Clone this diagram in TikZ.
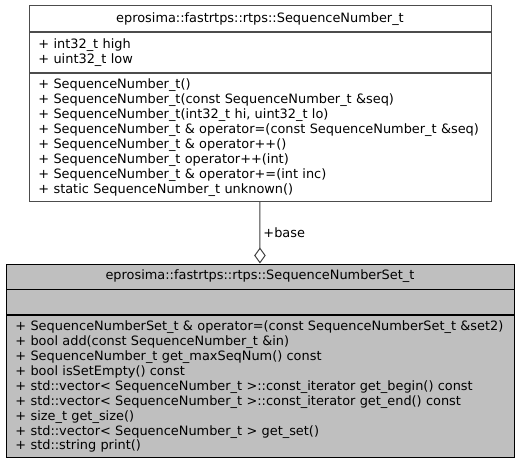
\documentclass[tikz,border=0pt]{standalone}
\usepackage{fontspec}
\setmainfont{DejaVu Sans}
\usepackage{xcolor}
\usepackage{tikz}
\usetikzlibrary{arrows.meta}
\definecolor{classborder}{gray}{0.3}
\definecolor{focusfill}{gray}{0.75}
\definecolor{edgegray}{gray}{0.25}
\tikzset{>={Stealth[scale=1]}}
\tikzset{
  umlfont/.style={font=\fontsize{12.9bp}{14.9bp}\selectfont},
  classpart/.style={draw=classborder, fill=white, line width=0.9bp, umlfont,
    inner sep=0pt, anchor=north west},
  classhead/.style={classpart, align=center},
  classbody/.style={classpart, align=left, text width=#1, inner xsep=9.5bp},
  focus/.style={draw=black, fill=focusfill},
  aggregation/.style={draw=edgegray, line width=1bp,
    -{Diamond[open, length=16bp, width=11.5bp, line width=1bp]}}
}

\begin{document}
\begin{tikzpicture}[x=1bp, y=-1bp]
      \useasboundingbox (0, 0) rectangle (519, 463);
      % used class
      \node[classhead, minimum width=462bp, minimum height=26bp] (snhead) at (28.5, 5.5)
        {eprosima::fastrtps::rtps::SequenceNumber\_t};
      \node[classbody=443bp, minimum height=40bp] (snattr) at (snhead.south west)
        {+ int32\_t high\\
         + uint32\_t low};
      \node[classbody=443bp, minimum height=128bp] (snmeth) at (snattr.south west)
        {+ SequenceNumber\_t()\\
         + SequenceNumber\_t(const SequenceNumber\_t \&seq)\\
         + SequenceNumber\_t(int32\_t hi, uint32\_t lo)\\
         + SequenceNumber\_t \& operator=(const SequenceNumber\_t \&seq)\\
         + SequenceNumber\_t \& operator++()\\
         + SequenceNumber\_t operator++(int)\\
         + SequenceNumber\_t \& operator+=(int inc)\\
         + static SequenceNumber\_t unknown()};
      % documented class
      \node[classhead, focus, minimum width=508bp, minimum height=25bp] (snshead) at (5.5, 263.5)
        {eprosima::fastrtps::rtps::SequenceNumberSet\_t};
      \node[classbody=489bp, focus, minimum height=25bp] (snsattr) at (snshead.south west) {};
      \node[classbody=489bp, focus, minimum height=142bp] (snsmeth) at (snsattr.south west)
        {+ SequenceNumberSet\_t \& operator=(const SequenceNumberSet\_t \&set2)\\
         + bool add(const SequenceNumber\_t \&in)\\
         + SequenceNumber\_t get\_maxSeqNum() const\\
         + bool isSetEmpty() const\\
         + std::vector< SequenceNumber\_t >::const\_iterator get\_begin() const\\
         + std::vector< SequenceNumber\_t >::const\_iterator get\_end() const\\
         + size\_t get\_size()\\
         + std::vector< SequenceNumber\_t > get\_set()\\
         + std::string print()};
      \draw[aggregation] (snmeth.south) -- (snshead.north)
        node[midway, right, umlfont, inner sep=3bp] {+base};
    \end{tikzpicture}
\end{document}
